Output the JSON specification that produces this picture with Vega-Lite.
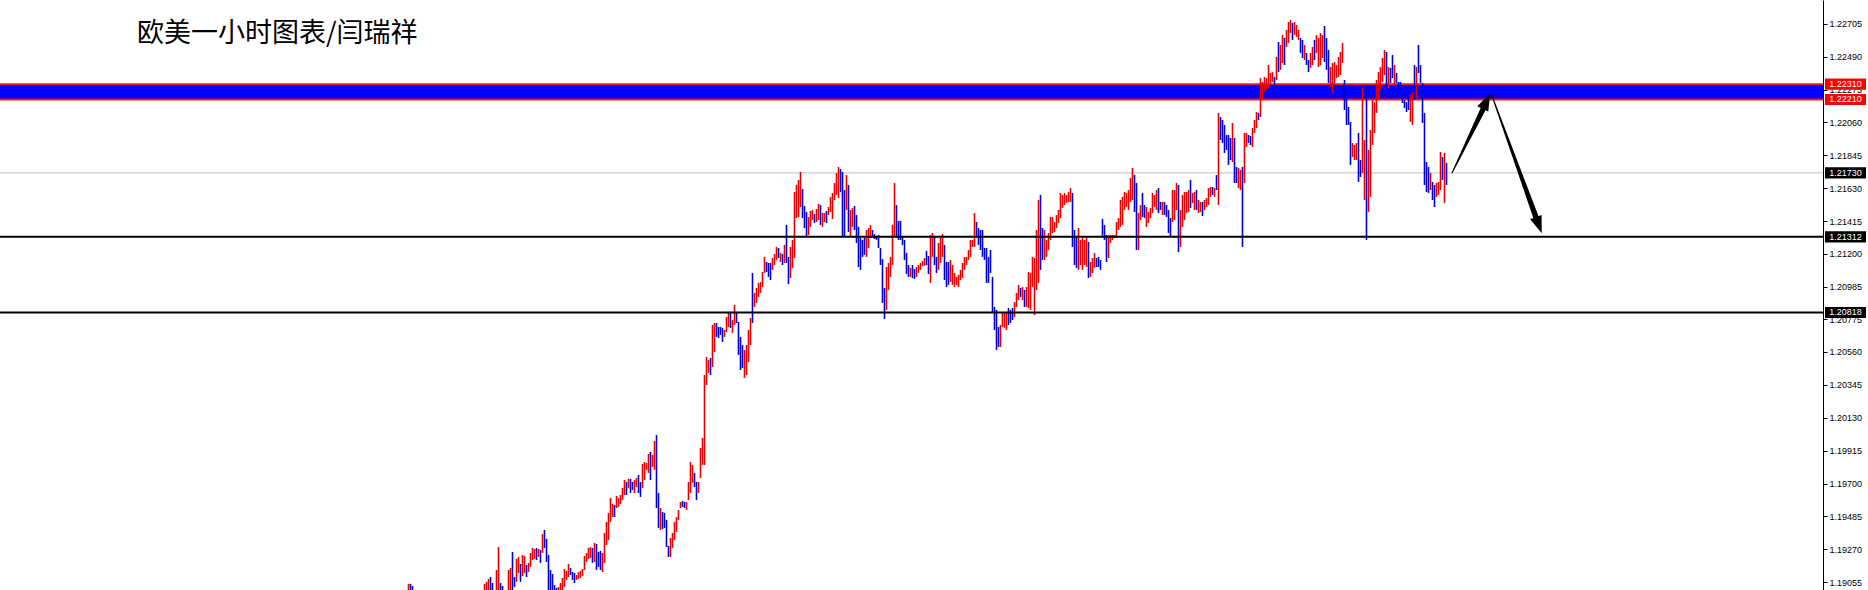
{
"$schema": "https://vega.github.io/schema/vega-lite/v6.json",
"width": 1823, "height": 590,
"autosize": {"type": "none"},
"padding": {"left": 0, "top": 0, "right": 45, "bottom": 0},
"background": "white",
"config": {"view": {"stroke": null}},
"resolve": {"scale": {"color": "independent", "size": "independent"}},
"datasets": {
"bars": [
{"k":0,"h":1.19044,"l":1.18939,"u":1},{"k":1,"h":1.19044,"l":1.18939,"u":0},{"k":2,"h":1.1903,"l":1.18939,"u":0},
{"k":38,"h":1.19044,"l":1.18939,"u":1},{"k":39,"h":1.19057,"l":1.18939,"u":1},{"k":40,"h":1.19076,"l":1.18939,"u":1},{"k":41,"h":1.19089,"l":1.19004,"u":0},{"k":42,"h":1.1905,"l":1.18939,"u":0},{"k":44,"h":1.19135,"l":1.18939,"u":1},{"k":45,"h":1.19285,"l":1.18939,"u":1},{"k":46,"h":1.1905,"l":1.18939,"u":0},{"k":47,"h":1.1903,"l":1.18939,"u":0},
{"k":50,"h":1.19135,"l":1.18939,"u":1},{"k":51,"h":1.19148,"l":1.18972,"u":1},{"k":52,"h":1.19253,"l":1.18939,"u":0},{"k":53,"h":1.19089,"l":1.19024,"u":0},{"k":54,"h":1.19207,"l":1.19057,"u":1},{"k":55,"h":1.1922,"l":1.19115,"u":1},{"k":56,"h":1.19174,"l":1.19057,"u":0},{"k":57,"h":1.19233,"l":1.19096,"u":1},{"k":58,"h":1.19227,"l":1.19115,"u":1},{"k":59,"h":1.19168,"l":1.19089,"u":0},
{"k":60,"h":1.19181,"l":1.19122,"u":1},{"k":61,"h":1.19246,"l":1.19155,"u":1},{"k":62,"h":1.19279,"l":1.192,"u":1},{"k":63,"h":1.19272,"l":1.19207,"u":1},{"k":64,"h":1.19279,"l":1.192,"u":0},{"k":65,"h":1.19272,"l":1.1922,"u":1},{"k":66,"h":1.19266,"l":1.19181,"u":0},{"k":67,"h":1.1937,"l":1.19246,"u":1},{"k":68,"h":1.19396,"l":1.19279,"u":0},{"k":69,"h":1.19338,"l":1.19187,"u":0},
{"k":70,"h":1.19233,"l":1.18972,"u":0},{"k":71,"h":1.19135,"l":1.18939,"u":0},{"k":72,"h":1.19109,"l":1.18939,"u":0},{"k":73,"h":1.19037,"l":1.18939,"u":0},{"k":74,"h":1.19017,"l":1.18939,"u":0},{"k":75,"h":1.19024,"l":1.18939,"u":1},{"k":76,"h":1.1905,"l":1.18939,"u":1},{"k":77,"h":1.19083,"l":1.19004,"u":1},{"k":78,"h":1.19142,"l":1.19024,"u":1},{"k":79,"h":1.19129,"l":1.1907,"u":1},
{"k":80,"h":1.19174,"l":1.19089,"u":1},{"k":81,"h":1.19148,"l":1.19102,"u":0},{"k":82,"h":1.19122,"l":1.1907,"u":0},{"k":83,"h":1.19115,"l":1.1905,"u":0},{"k":84,"h":1.19102,"l":1.1907,"u":1},{"k":85,"h":1.19122,"l":1.19076,"u":1},{"k":86,"h":1.19129,"l":1.19083,"u":1},{"k":87,"h":1.19142,"l":1.19096,"u":1},{"k":88,"h":1.19227,"l":1.19135,"u":1},{"k":89,"h":1.19246,"l":1.19187,"u":1},
{"k":90,"h":1.19279,"l":1.19207,"u":1},{"k":91,"h":1.19285,"l":1.19213,"u":1},{"k":92,"h":1.19279,"l":1.19181,"u":0},{"k":93,"h":1.19311,"l":1.19187,"u":1},{"k":94,"h":1.19305,"l":1.19135,"u":0},{"k":95,"h":1.19253,"l":1.19155,"u":0},{"k":96,"h":1.19259,"l":1.19135,"u":0},{"k":97,"h":1.19246,"l":1.19122,"u":1},{"k":98,"h":1.19377,"l":1.19181,"u":1},{"k":99,"h":1.19449,"l":1.19298,"u":1},
{"k":100,"h":1.19508,"l":1.19331,"u":1},{"k":101,"h":1.19606,"l":1.19449,"u":1},{"k":102,"h":1.19566,"l":1.19481,"u":1},{"k":103,"h":1.1956,"l":1.19481,"u":0},{"k":104,"h":1.19619,"l":1.1954,"u":1},{"k":105,"h":1.19606,"l":1.19547,"u":1},{"k":106,"h":1.19625,"l":1.19566,"u":1},{"k":107,"h":1.19671,"l":1.19592,"u":1},{"k":108,"h":1.19723,"l":1.19625,"u":1},{"k":109,"h":1.1971,"l":1.19625,"u":0},
{"k":110,"h":1.1973,"l":1.19671,"u":1},{"k":111,"h":1.1973,"l":1.19638,"u":0},{"k":112,"h":1.1971,"l":1.19658,"u":0},{"k":113,"h":1.19723,"l":1.19638,"u":1},{"k":114,"h":1.19736,"l":1.19677,"u":1},{"k":115,"h":1.19756,"l":1.19638,"u":0},{"k":116,"h":1.1971,"l":1.19612,"u":0},{"k":117,"h":1.19828,"l":1.19671,"u":1},{"k":118,"h":1.19841,"l":1.19723,"u":1},{"k":119,"h":1.19834,"l":1.19789,"u":1},
{"k":120,"h":1.19893,"l":1.19769,"u":1},{"k":121,"h":1.19906,"l":1.19723,"u":0},{"k":122,"h":1.19887,"l":1.19808,"u":1},{"k":123,"h":1.19978,"l":1.19789,"u":1},{"k":124,"h":1.20017,"l":1.1954,"u":0},{"k":125,"h":1.19638,"l":1.1941,"u":0},{"k":126,"h":1.1954,"l":1.19396,"u":1},{"k":127,"h":1.19514,"l":1.19403,"u":0},{"k":128,"h":1.19508,"l":1.1941,"u":0},{"k":129,"h":1.19462,"l":1.19285,"u":0},
{"k":130,"h":1.19292,"l":1.1922,"u":0},{"k":131,"h":1.19344,"l":1.1922,"u":1},{"k":132,"h":1.19377,"l":1.19279,"u":1},{"k":133,"h":1.19449,"l":1.19331,"u":1},{"k":134,"h":1.19481,"l":1.19383,"u":1},{"k":135,"h":1.19527,"l":1.19462,"u":1},{"k":136,"h":1.19579,"l":1.1954,"u":1},{"k":137,"h":1.19586,"l":1.19547,"u":0},{"k":138,"h":1.19579,"l":1.1954,"u":0},{"k":139,"h":1.19579,"l":1.19527,"u":1},
{"k":140,"h":1.1971,"l":1.19592,"u":1},{"k":141,"h":1.19841,"l":1.19638,"u":1},{"k":142,"h":1.19821,"l":1.19704,"u":1},{"k":143,"h":1.19769,"l":1.19677,"u":0},{"k":144,"h":1.1971,"l":1.19592,"u":0},{"k":145,"h":1.1971,"l":1.19638,"u":1},{"k":146,"h":1.19932,"l":1.19736,"u":1},{"k":147,"h":1.19998,"l":1.19821,"u":1},{"k":148,"h":1.20409,"l":1.19821,"u":1},{"k":149,"h":1.20527,"l":1.20344,"u":1},
{"k":150,"h":1.20507,"l":1.20422,"u":1},{"k":151,"h":1.2052,"l":1.20409,"u":0},{"k":152,"h":1.20736,"l":1.20462,"u":1},{"k":153,"h":1.20749,"l":1.2056,"u":1},{"k":154,"h":1.20749,"l":1.20658,"u":0},{"k":155,"h":1.20723,"l":1.20651,"u":0},{"k":156,"h":1.20723,"l":1.20671,"u":0},{"k":157,"h":1.20717,"l":1.20625,"u":0},{"k":158,"h":1.20703,"l":1.20658,"u":1},{"k":159,"h":1.20788,"l":1.2069,"u":1},
{"k":160,"h":1.20821,"l":1.20723,"u":1},{"k":161,"h":1.20821,"l":1.20717,"u":0},{"k":162,"h":1.20769,"l":1.20684,"u":1},{"k":163,"h":1.20867,"l":1.20736,"u":1},{"k":164,"h":1.20815,"l":1.20749,"u":0},{"k":165,"h":1.20756,"l":1.2054,"u":0},{"k":166,"h":1.20658,"l":1.20442,"u":0},{"k":167,"h":1.20605,"l":1.20455,"u":0},{"k":168,"h":1.20573,"l":1.2039,"u":1},{"k":169,"h":1.20605,"l":1.20409,"u":1},
{"k":170,"h":1.20703,"l":1.20494,"u":1},{"k":171,"h":1.20782,"l":1.20605,"u":1},{"k":172,"h":1.21076,"l":1.20749,"u":0},{"k":173,"h":1.20945,"l":1.20854,"u":1},{"k":174,"h":1.20978,"l":1.2088,"u":1},{"k":175,"h":1.21011,"l":1.20919,"u":1},{"k":176,"h":1.21017,"l":1.20945,"u":1},{"k":177,"h":1.21082,"l":1.20984,"u":1},{"k":178,"h":1.21181,"l":1.21076,"u":1},{"k":179,"h":1.21148,"l":1.21082,"u":0},
{"k":180,"h":1.21141,"l":1.2105,"u":0},{"k":181,"h":1.21141,"l":1.2103,"u":0},{"k":182,"h":1.21174,"l":1.21096,"u":1},{"k":183,"h":1.212,"l":1.21128,"u":1},{"k":184,"h":1.21246,"l":1.21161,"u":1},{"k":185,"h":1.21239,"l":1.21174,"u":0},{"k":186,"h":1.21207,"l":1.21148,"u":1},{"k":187,"h":1.212,"l":1.21128,"u":0},{"k":188,"h":1.21259,"l":1.21141,"u":1},{"k":189,"h":1.2139,"l":1.21141,"u":0},
{"k":190,"h":1.21181,"l":1.21004,"u":0},{"k":191,"h":1.21246,"l":1.21043,"u":1},{"k":192,"h":1.21292,"l":1.21109,"u":1},{"k":193,"h":1.21605,"l":1.21174,"u":1},{"k":194,"h":1.21651,"l":1.21435,"u":1},{"k":195,"h":1.21684,"l":1.21442,"u":1},{"k":196,"h":1.21736,"l":1.21507,"u":1},{"k":197,"h":1.21625,"l":1.21435,"u":0},{"k":198,"h":1.21514,"l":1.2137,"u":0},{"k":199,"h":1.21475,"l":1.21311,"u":0},
{"k":200,"h":1.21442,"l":1.21324,"u":1},{"k":201,"h":1.21481,"l":1.21377,"u":1},{"k":202,"h":1.21488,"l":1.21422,"u":1},{"k":203,"h":1.21461,"l":1.21403,"u":0},{"k":204,"h":1.21494,"l":1.21409,"u":1},{"k":205,"h":1.21527,"l":1.21422,"u":1},{"k":206,"h":1.2152,"l":1.2139,"u":0},{"k":207,"h":1.21468,"l":1.21377,"u":1},{"k":208,"h":1.21468,"l":1.21409,"u":1},{"k":209,"h":1.21481,"l":1.21403,"u":0},
{"k":210,"h":1.21507,"l":1.21455,"u":1},{"k":211,"h":1.21573,"l":1.21475,"u":1},{"k":212,"h":1.21599,"l":1.21429,"u":1},{"k":213,"h":1.21664,"l":1.21553,"u":1},{"k":214,"h":1.21729,"l":1.21586,"u":1},{"k":215,"h":1.21769,"l":1.21566,"u":1},{"k":216,"h":1.21756,"l":1.21605,"u":0},{"k":217,"h":1.21736,"l":1.21311,"u":0},{"k":218,"h":1.21618,"l":1.21311,"u":0},{"k":219,"h":1.21716,"l":1.21488,"u":1},
{"k":220,"h":1.21651,"l":1.21344,"u":0},{"k":221,"h":1.21488,"l":1.21311,"u":1},{"k":222,"h":1.21501,"l":1.21377,"u":1},{"k":223,"h":1.21514,"l":1.21357,"u":0},{"k":224,"h":1.21455,"l":1.21272,"u":0},{"k":225,"h":1.21377,"l":1.21115,"u":0},{"k":226,"h":1.21305,"l":1.21096,"u":0},{"k":227,"h":1.21292,"l":1.21181,"u":0},{"k":228,"h":1.21305,"l":1.21194,"u":0},{"k":229,"h":1.21357,"l":1.21181,"u":1},
{"k":230,"h":1.2137,"l":1.21239,"u":1},{"k":231,"h":1.2139,"l":1.21305,"u":1},{"k":232,"h":1.21357,"l":1.21311,"u":0},{"k":233,"h":1.21331,"l":1.21298,"u":0},{"k":234,"h":1.21318,"l":1.21292,"u":0},{"k":235,"h":1.21324,"l":1.21239,"u":0},{"k":236,"h":1.21239,"l":1.21128,"u":0},{"k":237,"h":1.21167,"l":1.2088,"u":0},{"k":238,"h":1.20978,"l":1.20775,"u":0},{"k":239,"h":1.21115,"l":1.20834,"u":1},
{"k":240,"h":1.21141,"l":1.20965,"u":1},{"k":241,"h":1.21181,"l":1.2105,"u":1},{"k":242,"h":1.2139,"l":1.21128,"u":1},{"k":243,"h":1.21664,"l":1.21311,"u":1},{"k":244,"h":1.2152,"l":1.21305,"u":0},{"k":245,"h":1.21416,"l":1.21292,"u":0},{"k":246,"h":1.21416,"l":1.21292,"u":0},{"k":247,"h":1.21318,"l":1.21259,"u":0},{"k":248,"h":1.21292,"l":1.21161,"u":0},{"k":249,"h":1.21207,"l":1.21069,"u":0},
{"k":250,"h":1.21128,"l":1.2105,"u":0},{"k":251,"h":1.21109,"l":1.2105,"u":1},{"k":252,"h":1.21128,"l":1.21043,"u":0},{"k":253,"h":1.21102,"l":1.21037,"u":0},{"k":254,"h":1.21115,"l":1.2105,"u":1},{"k":255,"h":1.21128,"l":1.21076,"u":1},{"k":256,"h":1.21141,"l":1.21096,"u":1},{"k":257,"h":1.21154,"l":1.21122,"u":1},{"k":258,"h":1.21174,"l":1.21122,"u":1},{"k":259,"h":1.2122,"l":1.21128,"u":0},
{"k":260,"h":1.21187,"l":1.21069,"u":0},{"k":261,"h":1.21324,"l":1.21011,"u":1},{"k":262,"h":1.21337,"l":1.21181,"u":1},{"k":263,"h":1.21311,"l":1.21128,"u":0},{"k":264,"h":1.21181,"l":1.21076,"u":0},{"k":265,"h":1.21272,"l":1.21096,"u":1},{"k":266,"h":1.21305,"l":1.21141,"u":1},{"k":267,"h":1.21331,"l":1.21181,"u":1},{"k":268,"h":1.21259,"l":1.2103,"u":0},{"k":269,"h":1.21148,"l":1.20984,"u":0},
{"k":270,"h":1.21148,"l":1.20998,"u":0},{"k":271,"h":1.21161,"l":1.21017,"u":1},{"k":272,"h":1.21128,"l":1.20998,"u":1},{"k":273,"h":1.21076,"l":1.20984,"u":1},{"k":274,"h":1.2105,"l":1.20998,"u":1},{"k":275,"h":1.21063,"l":1.20984,"u":1},{"k":276,"h":1.21096,"l":1.2103,"u":1},{"k":277,"h":1.21141,"l":1.21043,"u":1},{"k":278,"h":1.21181,"l":1.21096,"u":1},{"k":279,"h":1.21181,"l":1.21128,"u":1},
{"k":280,"h":1.21226,"l":1.21161,"u":1},{"k":281,"h":1.21292,"l":1.21181,"u":1},{"k":282,"h":1.21292,"l":1.21246,"u":1},{"k":283,"h":1.21468,"l":1.21246,"u":1},{"k":284,"h":1.21409,"l":1.21305,"u":0},{"k":285,"h":1.2137,"l":1.21259,"u":0},{"k":286,"h":1.21357,"l":1.21226,"u":0},{"k":287,"h":1.21357,"l":1.21181,"u":0},{"k":288,"h":1.21239,"l":1.21161,"u":0},{"k":289,"h":1.21239,"l":1.21011,"u":0},
{"k":290,"h":1.21181,"l":1.21011,"u":0},{"k":291,"h":1.21226,"l":1.21076,"u":0},{"k":292,"h":1.2105,"l":1.20815,"u":0},{"k":293,"h":1.20854,"l":1.20703,"u":0},{"k":294,"h":1.20834,"l":1.20573,"u":0},{"k":295,"h":1.20723,"l":1.20592,"u":0},{"k":296,"h":1.20736,"l":1.20592,"u":1},{"k":297,"h":1.20815,"l":1.20723,"u":1},{"k":298,"h":1.20821,"l":1.20717,"u":1},{"k":299,"h":1.20815,"l":1.20703,"u":1},
{"k":300,"h":1.20847,"l":1.20736,"u":0},{"k":301,"h":1.20834,"l":1.20749,"u":0},{"k":302,"h":1.20847,"l":1.20769,"u":0},{"k":303,"h":1.20886,"l":1.20788,"u":1},{"k":304,"h":1.20945,"l":1.20854,"u":1},{"k":305,"h":1.20998,"l":1.20899,"u":1},{"k":306,"h":1.20978,"l":1.20919,"u":0},{"k":307,"h":1.20984,"l":1.20899,"u":1},{"k":308,"h":1.20965,"l":1.20854,"u":0},{"k":309,"h":1.20984,"l":1.20854,"u":1},
{"k":310,"h":1.21082,"l":1.20847,"u":1},{"k":311,"h":1.21076,"l":1.20834,"u":1},{"k":312,"h":1.21181,"l":1.20984,"u":1},{"k":313,"h":1.21174,"l":1.20801,"u":1},{"k":314,"h":1.21357,"l":1.20965,"u":1},{"k":315,"h":1.21553,"l":1.21011,"u":1},{"k":316,"h":1.21586,"l":1.21096,"u":0},{"k":317,"h":1.2137,"l":1.21161,"u":0},{"k":318,"h":1.21357,"l":1.21161,"u":1},{"k":319,"h":1.21292,"l":1.21181,"u":1},
{"k":320,"h":1.21337,"l":1.21226,"u":1},{"k":321,"h":1.21442,"l":1.21292,"u":1},{"k":322,"h":1.21442,"l":1.21337,"u":1},{"k":323,"h":1.21409,"l":1.21344,"u":1},{"k":324,"h":1.21455,"l":1.2137,"u":1},{"k":325,"h":1.21488,"l":1.21403,"u":1},{"k":326,"h":1.21599,"l":1.21435,"u":1},{"k":327,"h":1.21586,"l":1.21501,"u":1},{"k":328,"h":1.21599,"l":1.2152,"u":1},{"k":329,"h":1.21586,"l":1.21533,"u":1},
{"k":330,"h":1.21605,"l":1.2154,"u":1},{"k":331,"h":1.21631,"l":1.2154,"u":1},{"k":332,"h":1.21599,"l":1.21246,"u":0},{"k":333,"h":1.21357,"l":1.21128,"u":0},{"k":334,"h":1.21311,"l":1.21109,"u":0},{"k":335,"h":1.2137,"l":1.21096,"u":1},{"k":336,"h":1.21292,"l":1.21128,"u":1},{"k":337,"h":1.21305,"l":1.21096,"u":1},{"k":338,"h":1.21292,"l":1.21128,"u":1},{"k":339,"h":1.21311,"l":1.21115,"u":1},
{"k":340,"h":1.21279,"l":1.21043,"u":0},{"k":341,"h":1.21148,"l":1.2105,"u":1},{"k":342,"h":1.21174,"l":1.21076,"u":1},{"k":343,"h":1.21207,"l":1.21109,"u":1},{"k":344,"h":1.21174,"l":1.21115,"u":0},{"k":345,"h":1.21181,"l":1.21115,"u":0},{"k":346,"h":1.21161,"l":1.21096,"u":0},{"k":347,"h":1.21429,"l":1.21305,"u":0},{"k":348,"h":1.2139,"l":1.21292,"u":0},{"k":349,"h":1.21324,"l":1.21148,"u":0},
{"k":350,"h":1.21324,"l":1.21174,"u":1},{"k":351,"h":1.21324,"l":1.21272,"u":1},{"k":352,"h":1.21324,"l":1.21292,"u":1},{"k":353,"h":1.21324,"l":1.21305,"u":1},{"k":354,"h":1.21409,"l":1.21305,"u":1},{"k":355,"h":1.21435,"l":1.21357,"u":1},{"k":356,"h":1.21553,"l":1.21377,"u":1},{"k":357,"h":1.21573,"l":1.2139,"u":1},{"k":358,"h":1.21605,"l":1.21488,"u":1},{"k":359,"h":1.21599,"l":1.21507,"u":1},
{"k":360,"h":1.21618,"l":1.21488,"u":1},{"k":361,"h":1.21697,"l":1.2154,"u":1},{"k":362,"h":1.21762,"l":1.21553,"u":1},{"k":363,"h":1.21716,"l":1.21475,"u":0},{"k":364,"h":1.21664,"l":1.21226,"u":0},{"k":365,"h":1.21468,"l":1.21226,"u":1},{"k":366,"h":1.2152,"l":1.21422,"u":1},{"k":367,"h":1.21599,"l":1.21442,"u":0},{"k":368,"h":1.2152,"l":1.21435,"u":0},{"k":369,"h":1.21507,"l":1.21377,"u":1},
{"k":370,"h":1.21475,"l":1.21403,"u":1},{"k":371,"h":1.21501,"l":1.21435,"u":1},{"k":372,"h":1.21599,"l":1.21468,"u":1},{"k":373,"h":1.21586,"l":1.21507,"u":1},{"k":374,"h":1.21618,"l":1.21488,"u":1},{"k":375,"h":1.21631,"l":1.21468,"u":0},{"k":376,"h":1.2154,"l":1.21488,"u":0},{"k":377,"h":1.2154,"l":1.21455,"u":1},{"k":378,"h":1.2154,"l":1.21455,"u":0},{"k":379,"h":1.2152,"l":1.21442,"u":0},
{"k":380,"h":1.21488,"l":1.21337,"u":0},{"k":381,"h":1.21435,"l":1.21311,"u":0},{"k":382,"h":1.21618,"l":1.21409,"u":1},{"k":383,"h":1.21618,"l":1.21422,"u":1},{"k":384,"h":1.21664,"l":1.21488,"u":1},{"k":385,"h":1.21651,"l":1.21213,"u":0},{"k":386,"h":1.21488,"l":1.21246,"u":1},{"k":387,"h":1.21586,"l":1.21377,"u":1},{"k":388,"h":1.21605,"l":1.21422,"u":1},{"k":389,"h":1.21605,"l":1.21468,"u":1},
{"k":390,"h":1.21618,"l":1.21475,"u":1},{"k":391,"h":1.21684,"l":1.21501,"u":0},{"k":392,"h":1.21599,"l":1.21533,"u":1},{"k":393,"h":1.21605,"l":1.21488,"u":1},{"k":394,"h":1.21618,"l":1.21488,"u":0},{"k":395,"h":1.21553,"l":1.21468,"u":1},{"k":396,"h":1.2154,"l":1.21475,"u":1},{"k":397,"h":1.2154,"l":1.21448,"u":0},{"k":398,"h":1.21553,"l":1.21488,"u":1},{"k":399,"h":1.21566,"l":1.21507,"u":1},
{"k":400,"h":1.21631,"l":1.2152,"u":1},{"k":401,"h":1.21638,"l":1.21573,"u":1},{"k":402,"h":1.21638,"l":1.21586,"u":0},{"k":403,"h":1.21631,"l":1.21573,"u":1},{"k":404,"h":1.21716,"l":1.21618,"u":0},{"k":405,"h":1.22122,"l":1.2152,"u":1},{"k":406,"h":1.22095,"l":1.21945,"u":0},{"k":407,"h":1.22076,"l":1.21925,"u":0},{"k":408,"h":1.22043,"l":1.2186,"u":0},{"k":409,"h":1.21978,"l":1.2188,"u":0},
{"k":410,"h":1.21978,"l":1.21782,"u":0},{"k":411,"h":1.21958,"l":1.21814,"u":0},{"k":412,"h":1.22056,"l":1.21801,"u":1},{"k":413,"h":1.21958,"l":1.21664,"u":0},{"k":414,"h":1.21769,"l":1.21664,"u":0},{"k":415,"h":1.21762,"l":1.21631,"u":1},{"k":416,"h":1.21749,"l":1.21618,"u":1},{"k":417,"h":1.21769,"l":1.21246,"u":0},{"k":418,"h":1.21991,"l":1.21664,"u":1},{"k":419,"h":1.21991,"l":1.21899,"u":1},
{"k":420,"h":1.21978,"l":1.21925,"u":0},{"k":421,"h":1.21971,"l":1.21912,"u":0},{"k":422,"h":1.22024,"l":1.21899,"u":1},{"k":423,"h":1.22076,"l":1.21991,"u":1},{"k":424,"h":1.22128,"l":1.22024,"u":1},{"k":425,"h":1.22122,"l":1.22076,"u":0},{"k":426,"h":1.2235,"l":1.22095,"u":1},{"k":427,"h":1.22324,"l":1.22206,"u":1},{"k":428,"h":1.22357,"l":1.22259,"u":1},{"k":429,"h":1.2235,"l":1.22272,"u":1},
{"k":430,"h":1.22435,"l":1.22285,"u":1},{"k":431,"h":1.22383,"l":1.22305,"u":1},{"k":432,"h":1.22389,"l":1.22324,"u":1},{"k":433,"h":1.22357,"l":1.22272,"u":0},{"k":434,"h":1.22488,"l":1.22337,"u":1},{"k":435,"h":1.22586,"l":1.22389,"u":0},{"k":436,"h":1.22566,"l":1.22403,"u":1},{"k":437,"h":1.22631,"l":1.22448,"u":1},{"k":438,"h":1.22612,"l":1.22435,"u":0},{"k":439,"h":1.22664,"l":1.22553,"u":1},
{"k":440,"h":1.22716,"l":1.22579,"u":1},{"k":441,"h":1.22729,"l":1.22644,"u":1},{"k":442,"h":1.2271,"l":1.22599,"u":0},{"k":443,"h":1.22716,"l":1.22631,"u":1},{"k":444,"h":1.22697,"l":1.22618,"u":1},{"k":445,"h":1.22664,"l":1.22599,"u":1},{"k":446,"h":1.22612,"l":1.22514,"u":0},{"k":447,"h":1.22599,"l":1.22481,"u":0},{"k":448,"h":1.22566,"l":1.22468,"u":1},{"k":449,"h":1.22514,"l":1.22435,"u":0},
{"k":450,"h":1.22468,"l":1.22389,"u":0},{"k":451,"h":1.22514,"l":1.22416,"u":1},{"k":452,"h":1.22553,"l":1.22435,"u":1},{"k":453,"h":1.22599,"l":1.22468,"u":0},{"k":454,"h":1.22631,"l":1.22514,"u":1},{"k":455,"h":1.22612,"l":1.22422,"u":1},{"k":456,"h":1.22644,"l":1.22435,"u":1},{"k":457,"h":1.22631,"l":1.22481,"u":1},{"k":458,"h":1.2269,"l":1.22455,"u":0},{"k":459,"h":1.22612,"l":1.22403,"u":0},
{"k":460,"h":1.22533,"l":1.22318,"u":0},{"k":461,"h":1.22422,"l":1.22291,"u":1},{"k":462,"h":1.22448,"l":1.22252,"u":1},{"k":463,"h":1.22455,"l":1.22305,"u":1},{"k":464,"h":1.22435,"l":1.2235,"u":1},{"k":465,"h":1.22488,"l":1.22357,"u":1},{"k":466,"h":1.2252,"l":1.2237,"u":1},{"k":467,"h":1.22579,"l":1.22448,"u":1},{"k":468,"h":1.22337,"l":1.22141,"u":0},{"k":469,"h":1.22226,"l":1.22043,"u":0},
{"k":470,"h":1.22161,"l":1.22043,"u":0},{"k":471,"h":1.22063,"l":1.21782,"u":0},{"k":472,"h":1.21925,"l":1.21834,"u":1},{"k":473,"h":1.21912,"l":1.21814,"u":1},{"k":474,"h":1.21925,"l":1.21814,"u":1},{"k":475,"h":1.21991,"l":1.21671,"u":0},{"k":476,"h":1.21814,"l":1.21703,"u":0},{"k":477,"h":1.22285,"l":1.21729,"u":1},{"k":478,"h":1.21945,"l":1.21553,"u":1},{"k":479,"h":1.22291,"l":1.21292,"u":0},
{"k":480,"h":1.2188,"l":1.21475,"u":1},{"k":481,"h":1.2201,"l":1.21573,"u":1},{"k":482,"h":1.22206,"l":1.21912,"u":1},{"k":483,"h":1.22193,"l":1.21991,"u":1},{"k":484,"h":1.22337,"l":1.22122,"u":1},{"k":485,"h":1.22389,"l":1.22206,"u":1},{"k":486,"h":1.22422,"l":1.22272,"u":1},{"k":487,"h":1.22481,"l":1.22324,"u":1},{"k":488,"h":1.22533,"l":1.2237,"u":1},{"k":489,"h":1.2252,"l":1.22291,"u":0},
{"k":490,"h":1.22422,"l":1.22285,"u":1},{"k":491,"h":1.22416,"l":1.22318,"u":0},{"k":492,"h":1.22501,"l":1.2235,"u":0},{"k":493,"h":1.22435,"l":1.22305,"u":1},{"k":494,"h":1.22383,"l":1.22318,"u":0},{"k":495,"h":1.22324,"l":1.22291,"u":0},{"k":496,"h":1.22324,"l":1.22285,"u":0},{"k":497,"h":1.22239,"l":1.22187,"u":0},{"k":498,"h":1.22206,"l":1.22154,"u":0},{"k":499,"h":1.22193,"l":1.22128,"u":0},
{"k":500,"h":1.22226,"l":1.22141,"u":0},{"k":501,"h":1.22239,"l":1.22063,"u":1},{"k":502,"h":1.22259,"l":1.22043,"u":1},{"k":503,"h":1.22435,"l":1.22206,"u":0},{"k":504,"h":1.22422,"l":1.2222,"u":1},{"k":505,"h":1.22566,"l":1.22383,"u":0},{"k":506,"h":1.22435,"l":1.22318,"u":0},{"k":507,"h":1.22318,"l":1.22056,"u":0},{"k":508,"h":1.22122,"l":1.21651,"u":0},{"k":509,"h":1.21801,"l":1.21605,"u":0},
{"k":510,"h":1.21769,"l":1.21599,"u":0},{"k":511,"h":1.21729,"l":1.21618,"u":1},{"k":512,"h":1.21671,"l":1.21553,"u":0},{"k":513,"h":1.21651,"l":1.21507,"u":0},{"k":514,"h":1.21664,"l":1.21573,"u":1},{"k":515,"h":1.21671,"l":1.21586,"u":1},{"k":516,"h":1.21867,"l":1.21618,"u":1},{"k":517,"h":1.21834,"l":1.21684,"u":0},{"k":518,"h":1.2186,"l":1.21533,"u":1},{"k":519,"h":1.21795,"l":1.21651,"u":0}
],
"tags": [
{"p":1.2231,"kind":"band"},{"p":1.2221,"kind":"band"},{"p":1.2173,"kind":"line"},{"p":1.21312,"kind":"line"},{"p":1.20818,"kind":"line"}
],
"arrows": [
{"a":"up","o":0,"k":521.75,"p":1.21729},{"a":"up","o":1,"k":537.6,"p":1.22155},
{"a":"down","o":0,"k":541.6,"p":1.22239},{"a":"down","o":1,"k":563.75,"p":1.2144}
]
},
"layer": [
{
"data": {"values": [{"p": 1.2173}]},
"mark": {"type": "rule", "color": "#c0c0c0", "strokeWidth": 1},
"encoding": {"y": {"field": "p", "type": "quantitative", "scale": {"domain": [1.19004, 1.2286], "nice": false, "zero": false},
"axis": {"orient": "right", "title": null, "values": [1.19055,1.1927,1.19485,1.197,1.19915,1.2013,1.20345,1.2056,1.20775,1.20985,1.212,1.21415,1.2163,1.21845,1.2206,1.22275,1.2249,1.22705], "format": ".5f", "labelFont": "Liberation Sans", "labelFontSize": 9, "labelColor": "#000000", "domainColor": "#000000", "tickColor": "#000000", "tickSize": 4, "labelPadding": 2, "grid": false, "labelOverlap": false, "labelBound": false, "labelFlush": false}}}
},
{
"data": {"values": [{"top": 1.2231, "bottom": 1.2221}]},
"mark": {"type": "rect", "color": "#0000ff"},
"encoding": {
"y": {"field": "top", "type": "quantitative", "scale": {"domain": [1.19004, 1.2286], "nice": false, "zero": false},
"axis": {"orient": "right", "title": null, "values": [1.19055,1.1927,1.19485,1.197,1.19915,1.2013,1.20345,1.2056,1.20775,1.20985,1.212,1.21415,1.2163,1.21845,1.2206,1.22275,1.2249,1.22705], "format": ".5f", "labelFont": "Liberation Sans", "labelFontSize": 9, "labelColor": "#000000", "domainColor": "#000000", "tickColor": "#000000", "tickSize": 4, "labelPadding": 2, "grid": false, "labelOverlap": false, "labelBound": false, "labelFlush": false}},
"y2": {"field": "bottom"}
}
},
{
"data": {"values": [{"p": 1.2231}, {"p": 1.2221}]},
"mark": {"type": "rule", "color": "#f01818", "strokeWidth": 2},
"encoding": {"y": {"field": "p", "type": "quantitative", "scale": {"domain": [1.19004, 1.2286], "nice": false, "zero": false},
"axis": {"orient": "right", "title": null, "values": [1.19055,1.1927,1.19485,1.197,1.19915,1.2013,1.20345,1.2056,1.20775,1.20985,1.212,1.21415,1.2163,1.21845,1.2206,1.22275,1.2249,1.22705], "format": ".5f", "labelFont": "Liberation Sans", "labelFontSize": 9, "labelColor": "#000000", "domainColor": "#000000", "tickColor": "#000000", "tickSize": 4, "labelPadding": 2, "grid": false, "labelOverlap": false, "labelBound": false, "labelFlush": false}}}
},
{
"data": {"name": "bars"},
"mark": {"type": "rule", "strokeWidth": 1.6, "clip": true},
"encoding": {
"x": {"field": "k", "type": "quantitative", "scale": {"domain": [-204.25, 707.25], "nice": false, "zero": false}, "axis": null},
"y": {"field": "h", "type": "quantitative", "scale": {"domain": [1.19004, 1.2286], "nice": false, "zero": false},
"axis": {"orient": "right", "title": null, "values": [1.19055,1.1927,1.19485,1.197,1.19915,1.2013,1.20345,1.2056,1.20775,1.20985,1.212,1.21415,1.2163,1.21845,1.2206,1.22275,1.2249,1.22705], "format": ".5f", "labelFont": "Liberation Sans", "labelFontSize": 9, "labelColor": "#000000", "domainColor": "#000000", "tickColor": "#000000", "tickSize": 4, "labelPadding": 2, "grid": false, "labelOverlap": false, "labelBound": false, "labelFlush": false}},
"y2": {"field": "l"},
"color": {"field": "u", "type": "nominal", "scale": {"domain": [0, 1], "range": ["#0000d0", "#e60000"]}, "legend": null}
}
},
{
"data": {"values": [{"p": 1.21312}, {"p": 1.20818}]},
"mark": {"type": "rule", "color": "#000000", "strokeWidth": 2},
"encoding": {"y": {"field": "p", "type": "quantitative", "scale": {"domain": [1.19004, 1.2286], "nice": false, "zero": false},
"axis": {"orient": "right", "title": null, "values": [1.19055,1.1927,1.19485,1.197,1.19915,1.2013,1.20345,1.2056,1.20775,1.20985,1.212,1.21415,1.2163,1.21845,1.2206,1.22275,1.2249,1.22705], "format": ".5f", "labelFont": "Liberation Sans", "labelFontSize": 9, "labelColor": "#000000", "domainColor": "#000000", "tickColor": "#000000", "tickSize": 4, "labelPadding": 2, "grid": false, "labelOverlap": false, "labelBound": false, "labelFlush": false}}}
},
{
"data": {"name": "arrows"},
"mark": {"type": "trail", "color": "#000000"},
"encoding": {
"x": {"field": "k", "type": "quantitative", "scale": {"domain": [-204.25, 707.25], "nice": false, "zero": false}, "axis": null},
"y": {"field": "p", "type": "quantitative", "scale": {"domain": [1.19004, 1.2286], "nice": false, "zero": false},
"axis": {"orient": "right", "title": null, "values": [1.19055,1.1927,1.19485,1.197,1.19915,1.2013,1.20345,1.2056,1.20775,1.20985,1.212,1.21415,1.2163,1.21845,1.2206,1.22275,1.2249,1.22705], "format": ".5f", "labelFont": "Liberation Sans", "labelFontSize": 9, "labelColor": "#000000", "domainColor": "#000000", "tickColor": "#000000", "tickSize": 4, "labelPadding": 2, "grid": false, "labelOverlap": false, "labelBound": false, "labelFlush": false}},
"detail": {"field": "a", "type": "nominal"},
"order": {"field": "o", "type": "quantitative"},
"size": {"field": "o", "type": "quantitative", "scale": {"domain": [0, 1], "range": [1, 5.5]}, "legend": null}
}
},
{
"data": {"values": [{"a": "up"}]},
"mark": {"type": "point", "shape": "M0,-1L-0.7,1L0.7,1Z", "size": 300, "filled": true, "color": "#000000", "opacity": 1, "strokeWidth": 0, "angle": 25.4},
"encoding": {
"x": {"datum": 539.0, "type": "quantitative", "scale": {"domain": [-204.25, 707.25], "nice": false, "zero": false}, "axis": null},
"y": {"datum": 1.222, "type": "quantitative", "scale": {"domain": [1.19004, 1.2286], "nice": false, "zero": false},
"axis": {"orient": "right", "title": null, "values": [1.19055,1.1927,1.19485,1.197,1.19915,1.2013,1.20345,1.2056,1.20775,1.20985,1.212,1.21415,1.2163,1.21845,1.2206,1.22275,1.2249,1.22705], "format": ".5f", "labelFont": "Liberation Sans", "labelFontSize": 9, "labelColor": "#000000", "domainColor": "#000000", "tickColor": "#000000", "tickSize": 4, "labelPadding": 2, "grid": false, "labelOverlap": false, "labelBound": false, "labelFlush": false}}
}
},
{
"data": {"values": [{"a": "down"}]},
"mark": {"type": "point", "shape": "M0,-1L-0.7,1L0.7,1Z", "size": 300, "filled": true, "color": "#000000", "opacity": 1, "strokeWidth": 0, "angle": 160.1},
"encoding": {
"x": {"datum": 565.15, "type": "quantitative", "scale": {"domain": [-204.25, 707.25], "nice": false, "zero": false}, "axis": null},
"y": {"datum": 1.21388, "type": "quantitative", "scale": {"domain": [1.19004, 1.2286], "nice": false, "zero": false},
"axis": {"orient": "right", "title": null, "values": [1.19055,1.1927,1.19485,1.197,1.19915,1.2013,1.20345,1.2056,1.20775,1.20985,1.212,1.21415,1.2163,1.21845,1.2206,1.22275,1.2249,1.22705], "format": ".5f", "labelFont": "Liberation Sans", "labelFontSize": 9, "labelColor": "#000000", "domainColor": "#000000", "tickColor": "#000000", "tickSize": 4, "labelPadding": 2, "grid": false, "labelOverlap": false, "labelBound": false, "labelFlush": false}}
}
},
{
"data": {"name": "tags"},
"mark": {"type": "point", "shape": "M-1,-0.27H1V0.27H-1Z", "size": 1681, "filled": true, "opacity": 1, "strokeWidth": 0},
"encoding": {
"x": {"datum": 718.5, "type": "quantitative", "scale": {"domain": [-204.25, 707.25], "nice": false, "zero": false}, "axis": null},
"y": {"field": "p", "type": "quantitative", "scale": {"domain": [1.19004, 1.2286], "nice": false, "zero": false},
"axis": {"orient": "right", "title": null, "values": [1.19055,1.1927,1.19485,1.197,1.19915,1.2013,1.20345,1.2056,1.20775,1.20985,1.212,1.21415,1.2163,1.21845,1.2206,1.22275,1.2249,1.22705], "format": ".5f", "labelFont": "Liberation Sans", "labelFontSize": 9, "labelColor": "#000000", "domainColor": "#000000", "tickColor": "#000000", "tickSize": 4, "labelPadding": 2, "grid": false, "labelOverlap": false, "labelBound": false, "labelFlush": false}},
"color": {"field": "kind", "type": "nominal", "scale": {"domain": ["band", "line"], "range": ["#ff0000", "#000000"]}, "legend": null}
}
},
{
"data": {"name": "tags"},
"mark": {"type": "text", "color": "#ffffff", "font": "Liberation Sans", "fontSize": 9, "align": "center", "baseline": "middle"},
"encoding": {
"x": {"datum": 718.5, "type": "quantitative", "scale": {"domain": [-204.25, 707.25], "nice": false, "zero": false}, "axis": null},
"y": {"field": "p", "type": "quantitative", "scale": {"domain": [1.19004, 1.2286], "nice": false, "zero": false},
"axis": {"orient": "right", "title": null, "values": [1.19055,1.1927,1.19485,1.197,1.19915,1.2013,1.20345,1.2056,1.20775,1.20985,1.212,1.21415,1.2163,1.21845,1.2206,1.22275,1.2249,1.22705], "format": ".5f", "labelFont": "Liberation Sans", "labelFontSize": 9, "labelColor": "#000000", "domainColor": "#000000", "tickColor": "#000000", "tickSize": 4, "labelPadding": 2, "grid": false, "labelOverlap": false, "labelBound": false, "labelFlush": false}},
"text": {"field": "p", "type": "quantitative", "format": ".5f"}
}
},
{
"data": {"values": [{"title": "欧美一小时图表/闫瑞祥"}]},
"mark": {"type": "text", "color": "#000000", "font": "Noto Sans CJK SC", "fontSize": 27, "align": "left", "baseline": "middle"},
"encoding": {
"x": {"datum": -135.75, "type": "quantitative", "scale": {"domain": [-204.25, 707.25], "nice": false, "zero": false}, "axis": null},
"y": {"datum": 1.22638, "type": "quantitative", "scale": {"domain": [1.19004, 1.2286], "nice": false, "zero": false},
"axis": {"orient": "right", "title": null, "values": [1.19055,1.1927,1.19485,1.197,1.19915,1.2013,1.20345,1.2056,1.20775,1.20985,1.212,1.21415,1.2163,1.21845,1.2206,1.22275,1.2249,1.22705], "format": ".5f", "labelFont": "Liberation Sans", "labelFontSize": 9, "labelColor": "#000000", "domainColor": "#000000", "tickColor": "#000000", "tickSize": 4, "labelPadding": 2, "grid": false, "labelOverlap": false, "labelBound": false, "labelFlush": false}},
"text": {"field": "title"}
}
}
]
}
